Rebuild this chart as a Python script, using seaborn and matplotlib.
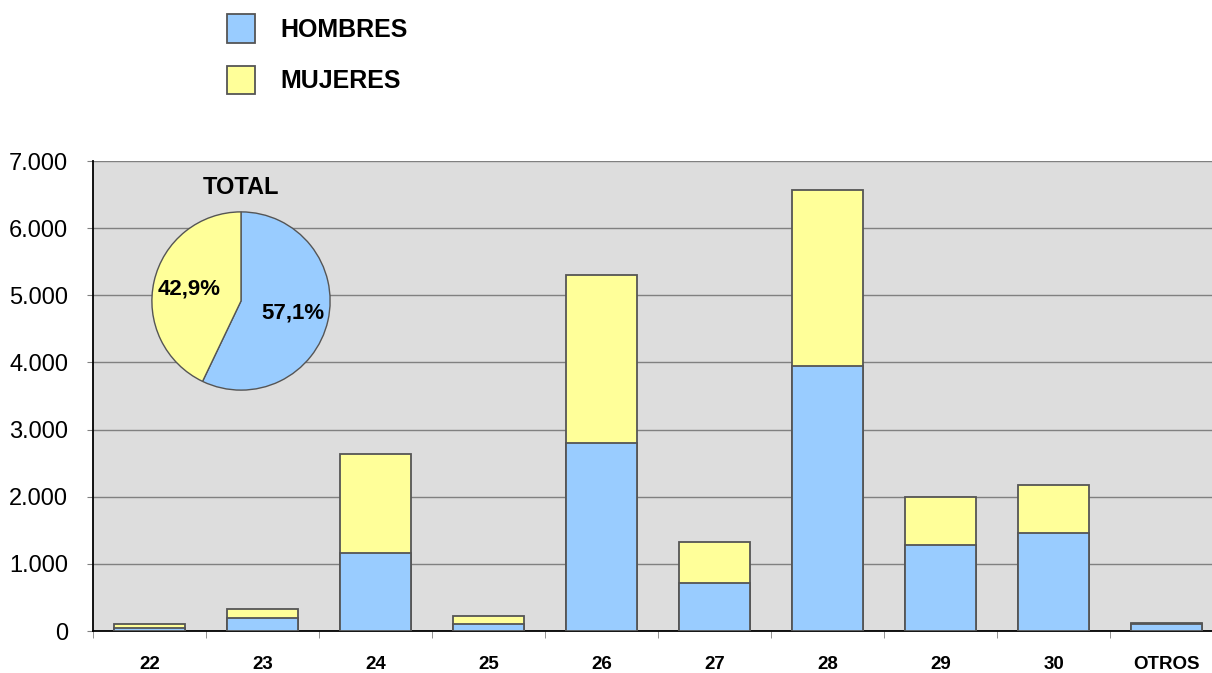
import matplotlib
matplotlib.use("Agg")
import matplotlib.pyplot as plt
import matplotlib.ticker as mticker
from matplotlib.patches import Patch
import numpy as np
import pandas as pd
import seaborn as sns

# data
categorias = ["22", "23", "24", "25", "26", "27", "28", "29", "30", "OTROS"]
hombres = [45, 200, 1160, 105, 2800, 715, 3950, 1280, 1460, 110]
mujeres = [55, 130, 1475, 115, 2500, 610, 2620, 715, 715, 8]
pie_labels = ["HOMBRES", "MUJERES"]
pie_pct = [57.1, 42.9]

AZUL = "#99CCFF"
AMARILLO = "#FFFF99"
BORDE = "#555555"

sns.set_style("white")
plt.rcParams["font.family"] = ["Liberation Sans", "DejaVu Sans"]
plt.rcParams["text.color"] = "black"
plt.rcParams["xtick.color"] = "black"
plt.rcParams["ytick.color"] = "black"

df = pd.DataFrame({"cat": categorias, "H": hombres, "M": mujeres})
df["total"] = df["H"] + df["M"]

fig = plt.figure(figsize=(12.12, 6.73), dpi=100)
# plot area runs slightly past the right edge, as in the reference
ax = fig.add_axes([93 / 1212, 1 - 631 / 673, 1130 / 1212, 470 / 673])
ax.set_facecolor("#DDDDDD")

# stacked bars: total (yellow) behind, hombres (blue) in front
sns.barplot(data=df, x="cat", y="total", color=AMARILLO, saturation=1,
            edgecolor=BORDE, linewidth=1.3, width=0.62, ax=ax, zorder=3)
sns.barplot(data=df, x="cat", y="H", color=AZUL, saturation=1,
            edgecolor=BORDE, linewidth=1.3, width=0.62, ax=ax, zorder=4)

ax.set_ylim(0, 7000)
ax.set_xlim(-0.5, len(categorias) - 0.5)
ax.yaxis.set_major_locator(mticker.MultipleLocator(1000))
ax.yaxis.set_major_formatter(mticker.FuncFormatter(lambda v, p: f"{int(v):,}".replace(",", ".")))
ax.grid(axis="y", color="#808080", linewidth=1, zorder=1)
ax.set_axisbelow(True)
ax.set_xlabel("")
ax.set_ylabel("")

for s in ["top", "right"]:
    ax.spines[s].set_visible(False)
for s in ["left", "bottom"]:
    ax.spines[s].set_color("black")
    ax.spines[s].set_linewidth(1.3)

ax.tick_params(axis="y", labelsize=17, length=4, color="#808080", pad=14, left=True)
ax.set_xticks(range(len(categorias)))
ax.set_xticklabels(categorias, fontsize=13.5, fontweight="bold")
ax.tick_params(axis="x", length=0, pad=18)
ax.set_xticks(np.arange(-0.5, len(categorias), 1), minor=True)
ax.tick_params(axis="x", which="minor", length=5, color="#808080", bottom=True)

# inset pie
pax = fig.add_axes([151 / 1212, 1 - 391 / 673, 180 / 1212, 180 / 673])
pax.pie(pie_pct, colors=[AZUL, AMARILLO], startangle=90, counterclock=False,
        autopct=lambda p: f"{p:.1f}%".replace(".", ","), pctdistance=0.6,
        wedgeprops={"edgecolor": BORDE, "linewidth": 1},
        textprops={"fontsize": 16, "fontweight": "bold", "color": "black"})
pax.set_xlim(-1.01, 1.01)
pax.set_ylim(-1.01, 1.01)
pax.set_aspect("equal")
fig.text(241 / 1212, 1 - 187 / 673, "TOTAL", ha="center", va="center",
         fontsize=17, fontweight="bold")

handles = [Patch(facecolor=AZUL, edgecolor=BORDE, linewidth=1.3),
           Patch(facecolor=AMARILLO, edgecolor=BORDE, linewidth=1.3)]
leg = fig.legend(handles, pie_labels, loc="upper left",
                 bbox_to_anchor=(227 / 1212, 1 - 14 / 673), frameon=False,
                 borderpad=0, borderaxespad=0, handlelength=1.12, handleheight=1.38,
                 handletextpad=1.0, labelspacing=0.92,
                 prop={"size": 18, "weight": "bold"})

fig.savefig("out.png", dpi=100)
